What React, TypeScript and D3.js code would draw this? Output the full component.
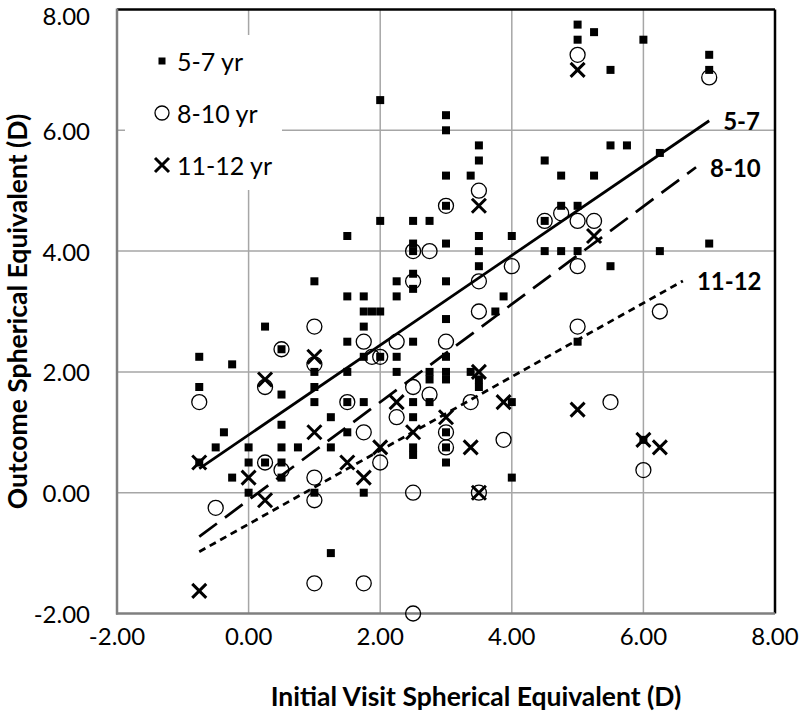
import React from 'react';
import * as d3 from 'd3';

const xTicks = [-2, 0, 2, 4, 6, 8];
const yTicks = [-2, 0, 2, 4, 6, 8];
const gridX = [0, 2, 4, 6];
const gridY = [0, 2, 4, 6];

// 5-7 yr (squares)
const age57: [number, number][] = [
  [1.0, 3.5], [1.5, 3.25], [1.75, 3.25], [1.75, 3.0], [1.875, 3.0], [2.0, 3.0], [1.75, 2.75],
  [0.25, 2.75], [0.5, 2.375], [1.5, 2.5], [1.75, 2.25], [2.0, 2.25], [-0.75, 2.25], [-0.25, 2.125],
  [-0.75, 1.75], [1.0, 2.0], [1.0, 1.75], [1.0, 1.5], [1.5, 2.0], [0.5, 1.625], [1.5, 1.5],
  [1.75, 1.5], [1.25, 1.25], [0.5, 1.125], [1.5, 1.0], [-0.375, 1.0], [-0.5, 0.75], [0, 0.75],
  [0.5, 0.75], [0.75, 0.75], [1.25, 0.75], [0, 0.5], [0.25, 0.5], [0.5, 0.5], [0.5, 0.25],
  [-0.25, 0.25], [0, 0], [1.0, 0], [1.75, 0], [1.25, -1.0], [-0.75, 0.5],
  [2.0, 6.5], [2.0, 4.5], [1.5, 4.25], [3.0, 6.25], [3.0, 6.0], [3.5, 5.75], [3.5, 5.5], [4.5, 5.5],
  [3.0, 5.25], [3.375, 5.25], [3.0, 4.75], [4.75, 5.25], [4.75, 4.75], [2.5, 4.5], [2.75, 4.5],
  [2.5, 4.125], [2.5, 4.0], [3.0, 4.125], [3.5, 4.25], [3.5, 4.0], [3.5, 3.75], [4.0, 4.25],
  [4.5, 4.0], [4.75, 4.0], [4.5, 4.5], [2.25, 3.5], [2.25, 3.25], [2.5, 3.625], [2.5, 3.375],
  [3.0, 3.5], [3.875, 3.25], [3.75, 3.0], [3.0, 2.875], [2.5, 2.5], [2.25, 2.25], [2.25, 2.0],
  [3.0, 2.25], [2.75, 2.0], [2.75, 1.875], [3.0, 2.0], [3.0, 1.875], [3.375, 2.0], [3.5, 1.875],
  [3.5, 1.75], [2.5, 1.5], [2.75, 1.5], [2.5, 1.25], [2.5, 0.75], [2.5, 0.625], [3.0, 1.0],
  [3.0, 0.75], [3.0, 0.5], [4.0, 1.5], [4.0, 0.25],
  [5.0, 7.75], [5.0, 7.5], [5.25, 7.625], [6.0, 7.5], [5.5, 7.0], [7.0, 7.25], [7.0, 7.0],
  [5.5, 5.75], [5.75, 5.75], [6.25, 5.625], [5.25, 5.25], [5.0, 4.75], [5.0, 4.0], [6.25, 4.0],
  [7.0, 4.125], [5.5, 3.75], [5.0, 2.5], [6.0, 0.875],
];

// 8-10 yr (open circles)
const age810: [number, number][] = [
  [1.0, 2.75], [0.5, 2.375], [1.0, 2.125], [0.25, 1.75], [-0.75, 1.5], [1.75, 2.5], [1.875, 2.25],
  [2.0, 2.25], [1.5, 1.5], [1.75, 1.0], [2.25, 1.25], [0.25, 0.5], [0.5, 0.375], [1.0, 0.25],
  [1.0, -0.125], [2.0, 0.5], [-0.5, -0.25], [1.0, -1.5], [1.75, -1.5],
  [3.5, 5.0], [3.0, 4.75], [2.5, 4.0], [2.75, 4.0], [2.5, 3.5], [3.5, 3.5], [3.5, 3.0], [4.0, 3.75],
  [4.5, 4.5], [2.25, 2.5], [3.0, 2.5], [2.5, 1.75], [2.75, 1.625], [3.375, 1.5], [3.0, 1.0],
  [3.0, 0.75], [3.875, 0.875], [2.5, 0], [3.5, 0], [2.5, -2.0],
  [5.0, 7.25], [7.0, 6.875], [4.75, 4.625], [5.0, 4.5], [5.25, 4.5], [5.0, 3.75], [6.25, 3.0],
  [5.0, 2.75], [5.5, 1.5], [6.0, 0.375],
];

// 11-12 yr (crosses)
const age1112: [number, number][] = [
  [-0.75, 0.5], [0.25, 1.875], [1.0, 2.25], [1.0, 1.0], [0, 0.25], [0.25, -0.125], [1.5, 0.5],
  [1.75, 0.25], [2.0, 0.75], [-0.75, -1.625],
  [3.5, 4.75], [2.25, 1.5], [2.5, 1.0], [3.0, 1.25], [3.5, 2.0], [3.875, 1.5], [3.375, 0.75], [3.5, 0],
  [5.0, 7.0], [5.25, 4.25], [5.0, 1.375], [6.0, 0.875], [6.25, 0.75],
];

const legendLabels = ['5-7 yr', '8-10 yr', '11-12 yr'];
const trendNames = ['5-7', '8-10', '11-12'];
const trendSlope = [0.743, 0.81, 0.61];
const trendIntercept = [0.957, -0.12, -0.52];
const trendXStart = [-0.75, -0.75, -0.75];
const trendXEnd = [7.0, 6.8, 6.6];
const trendDash = ['none', '22 10', '7 5'];

const W = 800;
const H = 719;
const left = 117;
const right = 775;
const top = 9.5;
const bottom = 613.5;
const FONT = 'Lato, "Open Sans", sans-serif';

export default function App() {
  const x = d3.scaleLinear().domain([-2, 8]).range([left, right]);
  const y = d3.scaleLinear().domain([-2, 8]).range([bottom, top]);
  const fmt = (v: number) => d3.format('.2f')(v).replace('\u2212', '-');
  const line = d3.line<[number, number]>().x(d => x(d[0])).y(d => y(d[1]));

  const sq = 8;
  const cr = 7.5;
  const xs = 7;

  const cross = (cx: number, cy: number, k: string, s = xs) => (
    <path key={k} d={`M${cx - s},${cy - s}L${cx + s},${cy + s}M${cx - s},${cy + s}L${cx + s},${cy - s}`}
      stroke="#000" strokeWidth={3} fill="none" />
  );

  return (
    <svg width={W} height={H} style={{ position: 'absolute', left: 0, top: 0, background: '#fff' }}>
      <rect x={0} y={0} width={W} height={H} fill="#fff" />
      {/* gridlines */}
      {gridX.map(v => (
        <line key={'gx' + v} x1={x(v)} x2={x(v)} y1={top} y2={bottom} stroke="#a6a6a6" strokeWidth={1.5} />
      ))}
      {gridY.map(v => (
        <line key={'gy' + v} x1={left} x2={right} y1={y(v)} y2={y(v)} stroke="#a6a6a6" strokeWidth={1.5} />
      ))}
      {/* plot border */}
      <line x1={left} x2={right} y1={top} y2={top} stroke="#000" strokeWidth={2.5} />
      <line x1={right} x2={right} y1={top} y2={bottom} stroke="#000" strokeWidth={2.5} />
      <line x1={left} x2={left} y1={top - 1} y2={bottom + 1} stroke="#7f7f7f" strokeWidth={2.5} />
      <line x1={left - 1} x2={right} y1={bottom} y2={bottom} stroke="#7f7f7f" strokeWidth={2.5} />

      {/* legend */}
      <rect x={125} y={35} width={157} height={155} fill="#fff" />
      {legendLabels.map((t, i) => {
        const ly = 61 + i * 52;
        const lx = 162;
        return (
          <g key={'lg' + i}>
            {i === 0 && <rect x={lx - 3.5} y={ly - 3.5} width={7} height={7} fill="#000" />}
            {i === 1 && <circle cx={lx} cy={ly} r={7} fill="none" stroke="#000" strokeWidth={1.3} />}
            {i === 2 && cross(lx, ly, 'lgx', 7)}
            <text x={177} y={ly} dominantBaseline="central" fontFamily={FONT} fontSize={25} fill="#000">{t}</text>
          </g>
        );
      })}

      {/* series */}
      {age57.map((d, i) => (
        <rect key={'s' + i} x={x(d[0]) - sq / 2} y={y(d[1]) - sq / 2} width={sq} height={sq} fill="#000" />
      ))}
      {age810.map((d, i) => (
        <circle key={'c' + i} cx={x(d[0])} cy={y(d[1])} r={cr} fill="none" stroke="#000" strokeWidth={1.3} />
      ))}
      {age1112.map((d, i) => cross(x(d[0]), y(d[1]), 'x' + i))}

      {/* trend lines */}
      {trendNames.map((n, i) => {
        const p: [number, number][] = [
          [trendXStart[i], trendIntercept[i] + trendSlope[i] * trendXStart[i]],
          [trendXEnd[i], trendIntercept[i] + trendSlope[i] * trendXEnd[i]],
        ];
        const end = p[1];
        return (
          <g key={'t' + i}>
            <path d={line(p) || ''} stroke="#000" strokeWidth={2.75}
              strokeDasharray={trendDash[i] === 'none' ? undefined : trendDash[i]} fill="none" />
            <text x={x(end[0]) + 14} y={y(end[1])} dominantBaseline="central" fontFamily={FONT}
              fontWeight="bold" fontSize={24} fill="#000">{n}</text>
          </g>
        );
      })}

      {/* tick labels */}
      {xTicks.map(v => (
        <text key={'xt' + v} x={x(v)} y={635} textAnchor="middle" dominantBaseline="central"
          fontFamily={FONT} fontSize={24} fill="#000">{fmt(v)}</text>
      ))}
      {yTicks.map(v => (
        <text key={'yt' + v} x={90} y={Math.max(y(v), 15)} textAnchor="end" dominantBaseline="central"
          fontFamily={FONT} fontSize={24} fill="#000">{fmt(v)}</text>
      ))}

      {/* axis titles */}
      <text x={(left + right) / 2 + 30} y={696} textAnchor="middle" dominantBaseline="central"
        fontFamily={FONT} fontWeight="bold" fontSize={26.5} fill="#000">Initial Visit Spherical Equivalent (D)</text>
      <text transform={`translate(17,${(top + bottom) / 2}) rotate(-90)`} textAnchor="middle" dominantBaseline="central"
        fontFamily={FONT} fontWeight="bold" fontSize={26.5} fill="#000">Outcome Spherical Equivalent (D)</text>
    </svg>
  );
}
